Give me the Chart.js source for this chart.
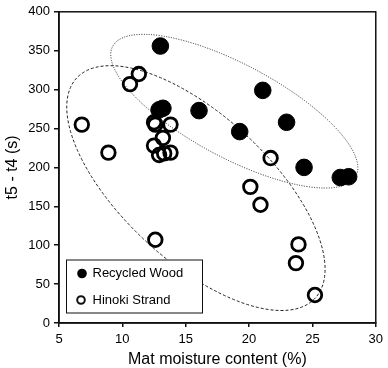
<!DOCTYPE html>
<html>
<head>
<meta charset="utf-8">
<script src="https://cdn.jsdelivr.net/npm/chart.js@4"></script>
<style>
  html, body { margin: 0; padding: 0; background: #fff; }
  #wrap { width: 388px; height: 368px; }
</style>
</head>
<body>
<div id="wrap"><canvas id="chart"></canvas></div>
<script>
// Recycled Wood (filled) - moisture %, t5 - t4 (s)
const recycledX = [13.0, 12.9, 13.2, 16.05, 21.08, 19.26, 22.96, 24.34, 27.2, 27.86];
const recycledY = [356, 274, 276, 273, 299, 246, 258, 200, 187, 188];

// Hinoki Strand (open)
const hinokiX = [6.8, 8.9, 10.6, 11.3, 12.5, 12.6, 13.8, 13.2, 12.5, 12.9, 13.3, 13.8, 21.7, 20.1, 20.9, 23.9, 23.7, 25.2, 12.6];
const hinokiY = [255, 219, 307, 320, 258, 255, 255, 238, 228, 216, 218, 219, 212, 175, 152, 101, 77, 36, 107];

// grouping ellipses: major-axis end A, major-axis end B, minor-axis end (data units)
const recycledEllipse = [[9.24, 355.7], [28.43, 188.8], [20.58, 325]];
const hinokiEllipse = [[6.39, 314.8], [25.22, 32], [19.73, 242.1]];

const xTicks = [5, 10, 15, 20, 25, 30];
const yTicks = [0, 50, 100, 150, 200, 250, 300, 350, 400];

const FONT = 'Liberation Sans, Arial, Helvetica, sans-serif';

function toPoints(xs, ys) {
  return xs.map((x, i) => ({ x: x, y: ys[i] }));
}

function drawEllipse(chart, def, dash) {
  const { ctx, scales } = chart;
  const p = def.map(([x, y]) => [scales.x.getPixelForValue(x), scales.y.getPixelForValue(y)]);
  const cx = (p[0][0] + p[1][0]) / 2;
  const cy = (p[0][1] + p[1][1]) / 2;
  const a = Math.hypot(p[1][0] - p[0][0], p[1][1] - p[0][1]) / 2;
  const b = Math.hypot(p[2][0] - cx, p[2][1] - cy);
  const ang = Math.atan2(p[1][1] - p[0][1], p[1][0] - p[0][0]);
  ctx.save();
  ctx.beginPath();
  ctx.setLineDash(dash);
  ctx.lineWidth = 1;
  ctx.strokeStyle = '#222';
  ctx.ellipse(cx, cy, a, b, ang, 0, Math.PI * 2);
  ctx.stroke();
  ctx.restore();
}

const extras = {
  id: 'extras',
  beforeDatasetsDraw(chart) {
    drawEllipse(chart, recycledEllipse, [1, 1.5]);
    drawEllipse(chart, hinokiEllipse, [3, 2]);
  },
  afterDraw(chart) {
    const { ctx, chartArea } = chart;
    ctx.save();
    // frame
    ctx.strokeStyle = '#111';
    ctx.lineWidth = 1.5;
    ctx.strokeRect(chartArea.left, chartArea.top, chartArea.right - chartArea.left, chartArea.bottom - chartArea.top);

    // legend box
    const bx = chartArea.left + 7.5;
    const by = chartArea.bottom - 63;
    ctx.lineWidth = 1;
    ctx.strokeStyle = '#111';
    ctx.fillStyle = '#fff';
    ctx.fillRect(bx, by, 136, 53);
    ctx.strokeRect(bx, by, 136, 53);

    ctx.fillStyle = '#000';
    ctx.beginPath();
    ctx.arc(bx + 15.5, by + 13.5, 4.8, 0, Math.PI * 2);
    ctx.fill();

    ctx.lineWidth = 2;
    ctx.beginPath();
    ctx.arc(bx + 14.5, by + 40, 3.8, 0, Math.PI * 2);
    ctx.stroke();

    ctx.font = '13px ' + FONT;
    ctx.textBaseline = 'middle';
    ctx.textAlign = 'left';
    ctx.fillText('Recycled Wood', bx + 26, by + 13.5);
    ctx.fillText('Hinoki Strand', bx + 26, by + 40);
    ctx.restore();
  }
};

new Chart(document.getElementById('chart'), {
  type: 'scatter',
  data: {
    datasets: [
      {
        label: 'Recycled Wood',
        data: toPoints(recycledX, recycledY),
        backgroundColor: '#000',
        borderColor: '#000',
        borderWidth: 1,
        pointRadius: 8.3,
        order: 2,
      },
      {
        label: 'Hinoki Strand',
        data: toPoints(hinokiX, hinokiY),
        backgroundColor: 'rgba(0,0,0,0)',
        borderColor: '#000',
        borderWidth: 2.8,
        pointRadius: 6.8,
        order: 1,
      },
    ],
  },
  options: {
    responsive: true,
    maintainAspectRatio: false,
    animation: false,
    layout: { padding: { left: 0, right: 9, top: 7, bottom: 0 } },
    plugins: {
      legend: { display: false },
      tooltip: { enabled: false },
    },
    scales: {
      x: {
        type: 'linear',
        min: 5,
        max: 30,
        afterFit: (s) => { s.height = 45; },
        afterBuildTicks: (s) => { s.ticks = xTicks.map((v) => ({ value: v })); },
        grid: { display: true, drawOnChartArea: false, drawTicks: true, tickLength: 4, color: '#111', lineWidth: 1.5 },
        border: { display: true, color: '#111', width: 1.5 },
        ticks: { color: '#000', padding: 5, font: { family: FONT, size: 13 } },
        title: {
          display: true,
          text: 'Mat moisture content (%)',
          color: '#000',
          padding: { top: 0, bottom: 0 },
          font: { family: FONT, size: 16, lineHeight: 1 },
        },
      },
      y: {
        type: 'linear',
        min: 0,
        max: 400,
        afterFit: (s) => { s.width = 59; },
        afterBuildTicks: (s) => { s.ticks = yTicks.map((v) => ({ value: v })); },
        grid: { display: true, drawOnChartArea: false, drawTicks: true, tickLength: 5, color: '#111', lineWidth: 1.5 },
        border: { display: true, color: '#111', width: 1.5 },
        ticks: { color: '#000', padding: 4, font: { family: FONT, size: 13 } },
        title: {
          display: true,
          text: 't5 - t4 (s)',
          color: '#000',
          padding: { top: 5, bottom: 0 },
          font: { family: FONT, size: 16, lineHeight: 1 },
        },
      },
    },
  },
  plugins: [extras],
});
</script>
</body>
</html>
